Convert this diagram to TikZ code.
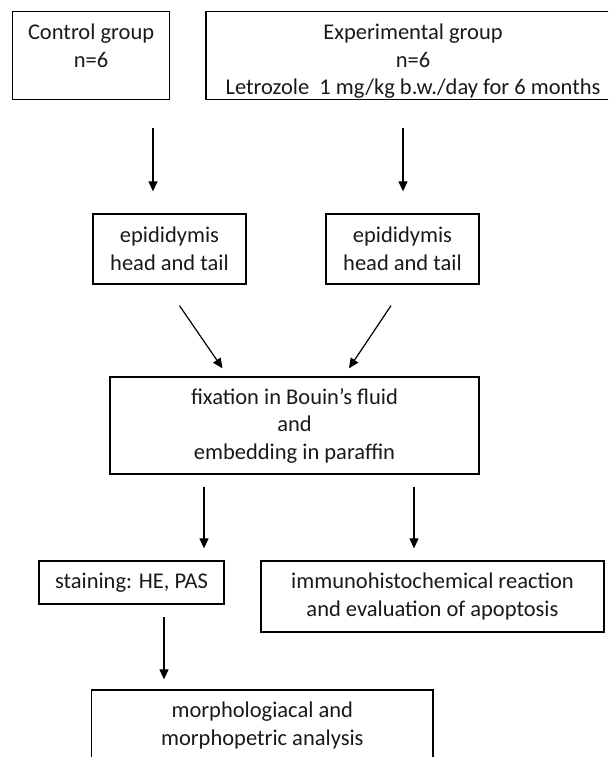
\documentclass[tikz,border=0pt]{standalone}
\usepackage{fontspec}
\setmainfont{Carlito}
\usetikzlibrary{arrows.meta,calc}
\newcommand{\lowertext}[1]{\raisebox{-6.5pt}[\height][\depth]{\begin{tabular}{@{}c@{}}#1\end{tabular}}}
\begin{document}
\begin{tikzpicture}[x=1pt,y=-1pt,
  box/.style={draw=black,line width=1.3pt,rectangle,inner sep=0pt,align=center,
    font=\fontsize{22.5}{27.5}\selectfont,text=black!90},
  arr/.style={line width=1.2pt,-{Triangle[width=9pt,length=10pt]}}]
\useasboundingbox (0,0) rectangle (608,757);
\clip (0,0) rectangle (608,757);
\node[box,minimum width=156.6pt,minimum height=87.6pt] (ctrl) at (91.1,55.5)
  {\lowertext{Control group\\n=6\\\mbox{}}};
\node[box,minimum width=414pt,minimum height=87.6pt] (exp) at (413,55.5)
  {\lowertext{Experimental group\\n=6\\Letrozole~~1 mg/kg b.w./day for 6 months}};
\node[box,minimum width=153pt,minimum height=70pt] (epiL) at (169.5,249)
  {epididymis\\head and tail};
\node[box,minimum width=153pt,minimum height=70pt] (epiR) at (402.5,249)
  {epididymis\\head and tail};
\node[box,minimum width=369pt,minimum height=97pt] (fix) at (294.5,425.5)
  {fixation in Bouin’s fluid\\and\\embedding in paraffin};
\node[box,minimum width=185pt,minimum height=43pt] (stain) at (131.5,582.5)
  {staining: HE, PAS};
\node[box,minimum width=343pt,minimum height=71pt] (immuno) at (432.5,596.5)
  {immunohistochemical reaction\\and evaluation of apoptosis};
\node[box,minimum width=341.5pt,minimum height=71pt] (morph) at (262.3,725.5)
  {morphologiacal and\\morphopetric analysis};
\draw[arr] ($(ctrl.south)+(61.9,27.7)$) -- ($(epiL.north)+(-16.5,-22)$);
\draw[arr] ($(exp.south)+(-10,27.7)$) -- ($(epiR.north)+(0.5,-22)$);
\draw[arr] ($(epiL.south)+(10,21)$) -- ($(fix.north)+(-72,-8)$);
\draw[arr] ($(epiR.south)+(-11.5,21)$) -- ($(fix.north)+(54.5,-8)$);
\draw[arr] ($(fix.south)+(-90.5,12)$) -- ($(stain.north)+(72.5,-12)$);
\draw[arr] ($(fix.south)+(119.5,12)$) -- ($(immuno.north)+(-18.5,-12)$);
\draw[arr] ($(stain.south)+(32.5,12)$) -- ($(morph.north)+(-98.3,-10)$);
\end{tikzpicture}
\end{document}
